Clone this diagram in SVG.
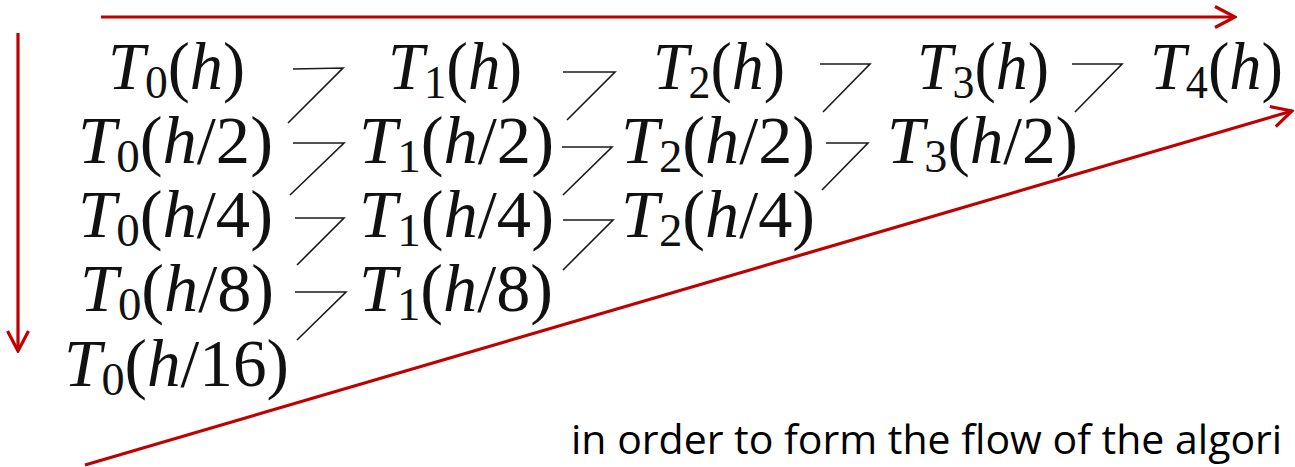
<svg xmlns="http://www.w3.org/2000/svg" width="1295" height="467" viewBox="0 0 1295 467">
<defs>
<style>
.m{font-family:"Liberation Serif","DejaVu Serif",serif;font-size:67px;fill:#111}
.i{font-style:italic}
.s{font-size:46px}
.c{fill:none;stroke:#1a1a1a;stroke-width:1.6;stroke-linejoin:miter}
.r{fill:none;stroke:#C00000;stroke-width:3.2}
.cap{font-family:"Open Sans","Noto Sans","Liberation Sans",sans-serif;font-size:41px;fill:#000}
</style>
<marker id="ah" viewBox="0 0 24 24" refX="22" refY="12" markerWidth="24" markerHeight="24" markerUnits="userSpaceOnUse" orient="auto">
<path d="M2,1.5 L22,12 L2,22.5" fill="none" stroke="#C00000" stroke-width="3.2"/>
</marker>
</defs>
<rect width="1295" height="467" fill="#fff"/>

<g id="flow-arrows">
<line class="r" x1="101" y1="17" x2="1235" y2="17" marker-end="url(#ah)"/>
<line class="r" x1="18" y1="33" x2="18" y2="351" marker-end="url(#ah)"/>
<line class="r" x1="85" y1="465" x2="1292" y2="111" marker-end="url(#ah)"/>
</g>

<g id="connectors">
<path class="c" d="M293,69 L343,68 L288,123"/>
<path class="c" d="M563,72 L615,72 L567,120"/>
<path class="c" d="M820,64 L870,64 L823,112"/>
<path class="c" d="M1072,64 L1122,64 L1075,112"/>
<path class="c" d="M293,143 L344,143 L290,195"/>
<path class="c" d="M562,147 L612,147 L563,195"/>
<path class="c" d="M826,143 L868,143 L822,190"/>
<path class="c" d="M295,218 L344,218 L297,265"/>
<path class="c" d="M563,220 L613,220 L563,270"/>
<path class="c" d="M295,292 L346,292 L297,340"/>
</g>

<g id="T0_h"><text class="m" x="108" y="89" textLength="137" lengthAdjust="spacingAndGlyphs"><tspan class="i">T</tspan><tspan class="s" dy="9">0</tspan><tspan dy="-9">(</tspan><tspan class="i">h</tspan>)</text></g>
<g id="T1_h"><text class="m" x="388" y="89" textLength="134" lengthAdjust="spacingAndGlyphs"><tspan class="i">T</tspan><tspan class="s" dy="9">1</tspan><tspan dy="-9">(</tspan><tspan class="i">h</tspan>)</text></g>
<g id="T2_h"><text class="m" x="653" y="89" textLength="132" lengthAdjust="spacingAndGlyphs"><tspan class="i">T</tspan><tspan class="s" dy="9">2</tspan><tspan dy="-9">(</tspan><tspan class="i">h</tspan>)</text></g>
<g id="T3_h"><text class="m" x="917" y="89" textLength="132" lengthAdjust="spacingAndGlyphs"><tspan class="i">T</tspan><tspan class="s" dy="9">3</tspan><tspan dy="-9">(</tspan><tspan class="i">h</tspan>)</text></g>
<g id="T4_h"><text class="m" x="1150" y="89" textLength="133" lengthAdjust="spacingAndGlyphs"><tspan class="i">T</tspan><tspan class="s" dy="9">4</tspan><tspan dy="-9">(</tspan><tspan class="i">h</tspan>)</text></g>

<g id="T0_h2"><text class="m" x="78" y="163" textLength="195" lengthAdjust="spacingAndGlyphs"><tspan class="i">T</tspan><tspan class="s" dy="9">0</tspan><tspan dy="-9">(</tspan><tspan class="i">h</tspan>/2)</text></g>
<g id="T1_h2"><text class="m" x="359" y="163" textLength="195" lengthAdjust="spacingAndGlyphs"><tspan class="i">T</tspan><tspan class="s" dy="9">1</tspan><tspan dy="-9">(</tspan><tspan class="i">h</tspan>/2)</text></g>
<g id="T2_h2"><text class="m" x="621" y="163" textLength="194" lengthAdjust="spacingAndGlyphs"><tspan class="i">T</tspan><tspan class="s" dy="9">2</tspan><tspan dy="-9">(</tspan><tspan class="i">h</tspan>/2)</text></g>
<g id="T3_h2"><text class="m" x="887" y="163" textLength="191" lengthAdjust="spacingAndGlyphs"><tspan class="i">T</tspan><tspan class="s" dy="9">3</tspan><tspan dy="-9">(</tspan><tspan class="i">h</tspan>/2)</text></g>

<g id="T0_h4"><text class="m" x="78" y="237" textLength="195" lengthAdjust="spacingAndGlyphs"><tspan class="i">T</tspan><tspan class="s" dy="9">0</tspan><tspan dy="-9">(</tspan><tspan class="i">h</tspan>/4)</text></g>
<g id="T1_h4"><text class="m" x="359" y="237" textLength="195" lengthAdjust="spacingAndGlyphs"><tspan class="i">T</tspan><tspan class="s" dy="9">1</tspan><tspan dy="-9">(</tspan><tspan class="i">h</tspan>/4)</text></g>
<g id="T2_h4"><text class="m" x="621" y="237" textLength="194" lengthAdjust="spacingAndGlyphs"><tspan class="i">T</tspan><tspan class="s" dy="9">2</tspan><tspan dy="-9">(</tspan><tspan class="i">h</tspan>/4)</text></g>

<g id="T0_h8"><text class="m" x="80" y="311" textLength="194" lengthAdjust="spacingAndGlyphs"><tspan class="i">T</tspan><tspan class="s" dy="9">0</tspan><tspan dy="-9">(</tspan><tspan class="i">h</tspan>/8)</text></g>
<g id="T1_h8"><text class="m" x="359" y="311" textLength="194" lengthAdjust="spacingAndGlyphs"><tspan class="i">T</tspan><tspan class="s" dy="9">1</tspan><tspan dy="-9">(</tspan><tspan class="i">h</tspan>/8)</text></g>

<g id="T0_h16"><text class="m" x="64" y="386" textLength="225" lengthAdjust="spacingAndGlyphs"><tspan class="i">T</tspan><tspan class="s" dy="9">0</tspan><tspan dy="-9">(</tspan><tspan class="i">h</tspan>/16)</text></g>

<g id="caption"><text class="cap" x="571" y="454">in order to form the flow of the algori</text></g>
</svg>
